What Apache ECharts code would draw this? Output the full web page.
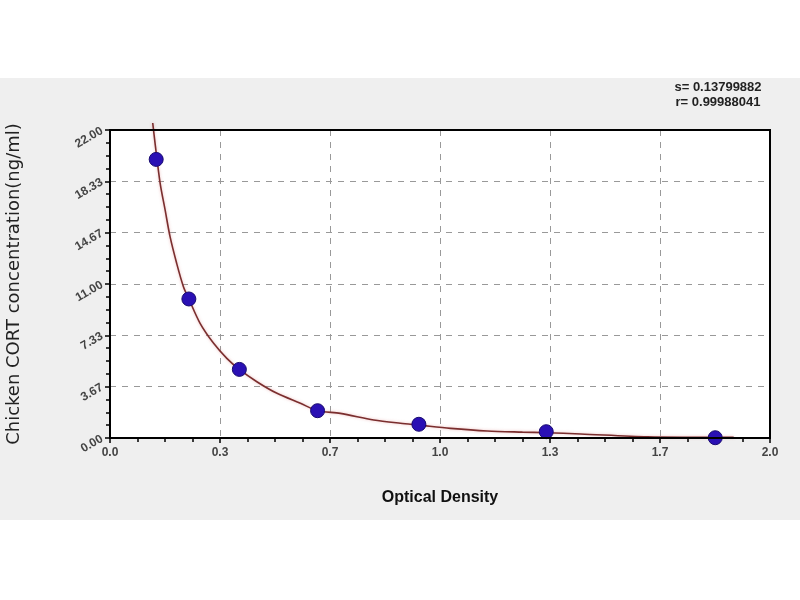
<!DOCTYPE html>
<html><head><meta charset="utf-8">
<script src="https://cdn.jsdelivr.net/npm/echarts@6/dist/echarts.min.js"></script>
<style>html,body{margin:0;padding:0;background:#fff}#c{width:800px;height:600px}</style>
</head><body><div id="c"></div>
<script>
// Standard points (Optical Density, concentration)
const pointOD = [0.140, 0.239, 0.392, 0.629, 0.936, 1.322, 1.834];
const pointConc = [19.90, 9.93, 4.90, 1.95, 0.98, 0.45, 0.02];
// Fitted curve
const curveOD = [0.1295, 0.1366, 0.152, 0.167, 0.182, 0.202, 0.2225, 0.239, 0.273, 0.314, 0.354, 0.392, 0.445, 0.506, 0.577, 0.629, 0.698, 0.799, 0.88, 0.936, 1.032, 1.143, 1.25, 1.322, 1.426, 1.629, 1.89];
const curveConc = [22.5, 21.05, 18.19, 16.29, 14.38, 12.48, 10.81, 9.93, 8.19, 6.76, 5.69, 4.90, 4.02, 3.19, 2.48, 1.95, 1.76, 1.29, 1.05, 0.92, 0.69, 0.50, 0.42, 0.38, 0.29, 0.09, 0.05];
const xTickLabels = ["0.0", "0.3", "0.7", "1.0", "1.3", "1.7", "2.0"];
const yTickLabels = ["0.00", "3.67", "7.33", "11.00", "14.67", "18.33", "22.00"];
const statLines = ["s= 0.13799882", "r= 0.99988041"];

const chart = echarts.init(document.getElementById('c'), null, {renderer: 'canvas'});
const pts = pointOD.map((x, i) => [x, pointConc[i]]);
const curve = curveOD.map((x, i) => [x, curveConc[i]]);
const xMax = 2, yMax = 22;
const labelFont = '"Liberation Sans", Arial, sans-serif';
chart.setOption({
  backgroundColor: '#ffffff',
  animation: false,
  graphic: [
    {type: 'rect', z: -10, silent: true, shape: {x: 0, y: 78, width: 800, height: 442}, style: {fill: '#efefef'}},
    {type: 'text', x: 718, y: 80, z: 10, style: {text: statLines.join('\n'), font: 'bold 13px "Liberation Sans", Arial, sans-serif', fill: '#222', align: 'center', verticalAlign: 'top', lineHeight: 15}},
    {type: 'rect', z: 20, silent: true, shape: {x: 110, y: 130, width: 660, height: 308}, style: {fill: 'none', stroke: '#000', lineWidth: 2}}
  ],
  grid: {left: 110, right: 30, top: 130, bottom: 162, outerBoundsMode: 'none', containLabel: false, show: true, backgroundColor: '#ffffff', borderWidth: 0},
  xAxis: {
    type: 'value', min: 0, max: xMax, interval: xMax / 6,
    name: 'Optical Density', nameLocation: 'middle', nameGap: 52,
    nameTextStyle: {fontFamily: labelFont, fontWeight: 'bold', fontSize: 16, color: '#111'},
    axisLine: {show: true, lineStyle: {color: '#000', width: 2}},
    axisTick: {show: true, inside: false, length: 5, lineStyle: {color: '#000', width: 1.5}},
    minorTick: {show: true, splitNumber: 4, length: 4, lineStyle: {color: '#000', width: 1.5}},
    axisLabel: {formatter: (v) => xTickLabels[Math.round(v / (xMax / 6))], fontFamily: labelFont, fontWeight: 'bold', fontSize: 12, color: '#444', margin: 9},
    splitLine: {show: true, showMinLine: false, showMaxLine: false, lineStyle: {color: '#999', type: [6, 6], width: 1}}
  },
  yAxis: {
    type: 'value', min: 0, max: yMax, interval: yMax / 6,
    name: 'Chicken CORT concentration(ng/ml)', nameLocation: 'middle', nameGap: 87, nameRotate: 90,
    nameTextStyle: {fontFamily: '"DejaVu Sans", sans-serif', fontSize: 18, color: '#222'},
    axisLine: {show: true, lineStyle: {color: '#000', width: 2}},
    axisTick: {show: true, inside: false, length: 5, lineStyle: {color: '#000', width: 1.5}},
    minorTick: {show: true, splitNumber: 4, length: 4, lineStyle: {color: '#000', width: 1.5}},
    axisLabel: {rotate: 30, formatter: (v) => yTickLabels[Math.round(v / (yMax / 6))], fontFamily: labelFont, fontWeight: 'bold', fontSize: 12, color: '#444', margin: 8},
    splitLine: {show: true, showMinLine: false, showMaxLine: false, lineStyle: {color: '#999', type: [6, 6], width: 1}}
  },
  series: [
    {type: 'line', data: curve, smooth: 0.3, showSymbol: false, clip: false, z: 2,
     lineStyle: {color: '#7a2e2e', width: 1.6, shadowColor: 'rgba(220,120,120,0.5)', shadowBlur: 3}},
    {type: 'scatter', data: pts, symbol: 'circle', symbolSize: 14, z: 3,
     itemStyle: {color: '#2a10b4', opacity: 1, borderColor: '#180a70', borderWidth: 1}}
  ]
});
</script></body></html>
